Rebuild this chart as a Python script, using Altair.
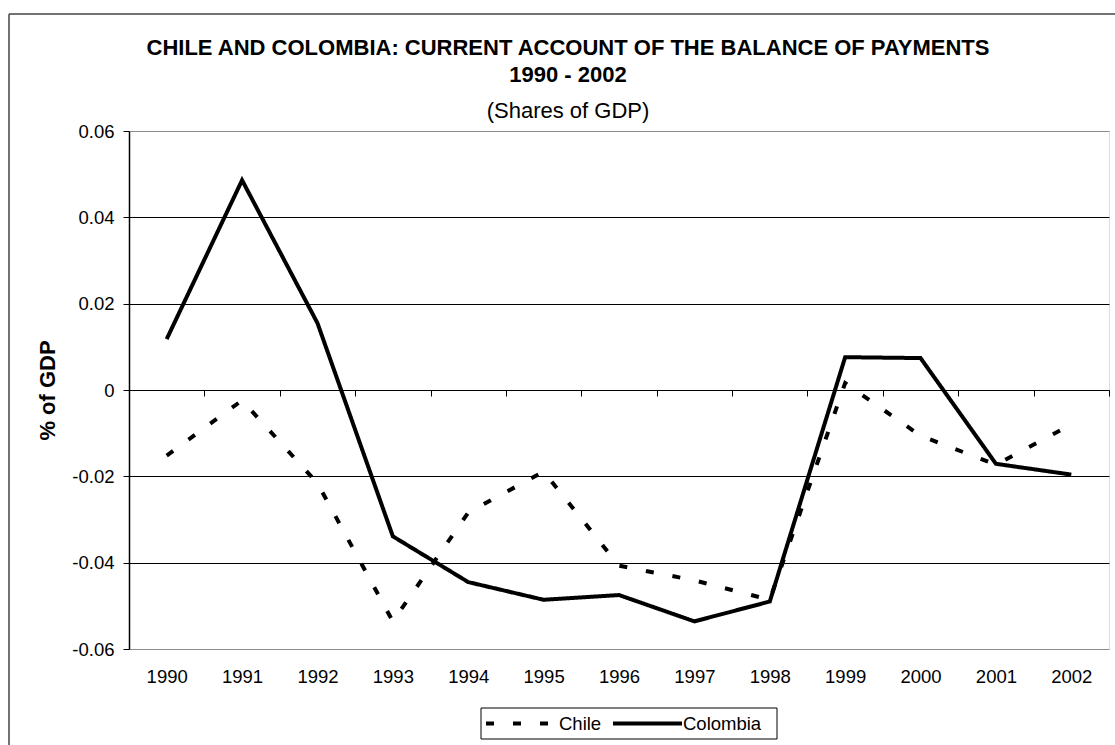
import altair as alt
import pandas as pd

years = [1990, 1991, 1992, 1993, 1994, 1995, 1996, 1997, 1998, 1999, 2000, 2001, 2002]
chile = [-0.0152, -0.0024, -0.0216, -0.0536, -0.0284, -0.0189, -0.0407, -0.0441, -0.0486,
         0.0016, -0.0106, -0.0173, -0.0080]
colombia = [0.0118, 0.0486, 0.0155, -0.0339, -0.0445, -0.0486, -0.0475, -0.0536, -0.0490,
            0.0076, 0.0074, -0.0171, -0.0196]
series_names = ["Chile", "Colombia"]
y_ticks = [-0.06, -0.04, -0.02, 0, 0.02, 0.04, 0.06]
boundaries = [1989.5 + i for i in range(14)]

rows = []
for name, vals in zip(series_names, [chile, colombia]):
    for yr, v in zip(years, vals):
        rows.append({"year": yr, "value": v, "series": name})
df = pd.DataFrame(rows)

FONT = "Liberation Sans"
DASH = [8, 19]
xscale = alt.Scale(domain=[1989.5, 2002.5], nice=False, zero=False)
yscale = alt.Scale(domain=[-0.06, 0.06], nice=False)

lines = alt.Chart(df).mark_line(strokeWidth=4, color="black", clip=False).encode(
    x=alt.X("year:Q", scale=xscale,
            axis=alt.Axis(values=years, format="d", title=None, ticks=False, domain=False,
                          grid=False, labelFontSize=18.5, labelFont=FONT, labelColor="black",
                          labelPadding=18, orient="bottom", labelFlush=False)),
    y=alt.Y("value:Q", scale=yscale,
            axis=alt.Axis(values=y_ticks, title="% of GDP", titleFontSize=22, titleFont=FONT,
                          titleFontWeight="bold", titleColor="black", titleX=-70, titleY=259,
                          titleAngle=270, titleBaseline="bottom",
                          labelExpr="datum.value == 0 ? '0' : (datum.value < 0 ? '-' : '') + format(abs(datum.value), '.2f')",
                          labelFontSize=18.5, labelFont=FONT, labelColor="black", labelPadding=9,
                          tickColor="black", tickSize=6, domainColor="black", domainWidth=1.5,
                          grid=True,
                          gridColor={"condition": {"test": "abs(datum.value) > 0.05", "value": "#8c8c8c"}, "value": "black"},
                          gridWidth=1, labelFlush=False)),
    strokeDash=alt.StrokeDash("series:N",
                              scale=alt.Scale(domain=series_names, range=[DASH, [1, 0]]),
                              legend=None),
)

zero_axis = alt.Chart(pd.DataFrame({"b": boundaries})).mark_tick(opacity=0).encode(
    x=alt.X("b:Q", scale=xscale,
            axis=alt.Axis(values=boundaries, labels=False, title=None, ticks=True, tickSize=6,
                          tickColor="black", domain=True, domainColor="black", grid=False,
                          orient="bottom", offset=-259)),
    y=alt.value(259),
)

one = pd.DataFrame({"k": [0]})
left_border = alt.Chart(one).mark_rule(color="#444", strokeWidth=1.5).encode(
    x=alt.value(-120), y=alt.value(-117), y2=alt.value(640))
top_border = alt.Chart(one).mark_rule(color="#444", strokeWidth=1.5).encode(
    x=alt.value(-120), x2=alt.value(1000), y=alt.value(-117))

# manual legend (Vega's stroke symbols would make the rows too tall)
leg_box = alt.Chart(one).mark_rect(fill="white", stroke="black", strokeWidth=1).encode(
    x=alt.value(352), x2=alt.value(648), y=alt.value(577), y2=alt.value(608))
leg_chile_line = alt.Chart(one).mark_rule(color="black", strokeWidth=4, strokeDash=DASH).encode(
    x=alt.value(357), x2=alt.value(421), y=alt.value(592.5))
leg_col_line = alt.Chart(one).mark_rule(color="black", strokeWidth=4).encode(
    x=alt.value(484), x2=alt.value(553), y=alt.value(592.5))
leg_chile_txt = alt.Chart(one).mark_text(align="left", baseline="middle", fontSize=18.5,
                                         font=FONT, color="black").encode(
    x=alt.value(430), y=alt.value(593), text=alt.value(series_names[0]))
leg_col_txt = alt.Chart(one).mark_text(align="left", baseline="middle", fontSize=18.5,
                                       font=FONT, color="black").encode(
    x=alt.value(554), y=alt.value(593), text=alt.value(series_names[1]))

chart = alt.layer(zero_axis, lines, left_border, top_border,
                  leg_box, leg_chile_line, leg_col_line, leg_chile_txt, leg_col_txt
                  ).resolve_axis(x="independent").properties(
    width=980, height=518,
    padding={"left": 129, "top": 131, "right": 6, "bottom": 96},
    autosize=alt.AutoSizeParams(type="none"),
    title=alt.TitleParams(
        text=["CHILE AND COLOMBIA: CURRENT ACCOUNT OF THE BALANCE OF PAYMENTS", "1990 - 2002"],
        subtitle="(Shares of GDP)", fontSize=22, font=FONT, fontWeight="bold", color="black",
        subtitleFontSize=22, subtitleFont=FONT, subtitleFontWeight="normal", subtitleColor="black",
        anchor="middle", dx=-51, lineHeight=27, subtitlePadding=14, offset=-110),
).configure_view(stroke="#8c8c8c", strokeWidth=2).configure(background="white")

chart.save("out.html", embed_options={"renderer": "svg", "actions": False})
